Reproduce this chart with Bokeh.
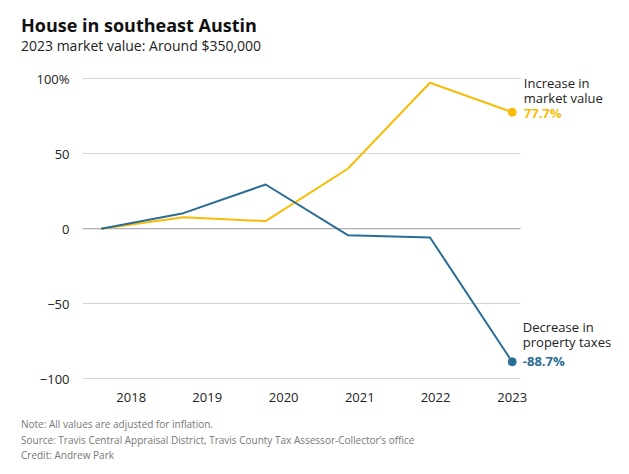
from bokeh.plotting import figure
from bokeh.models import Label, Range1d, FixedTicker, Title
from bokeh.embed import file_html
from bokeh.resources import INLINE

years = [2018, 2019, 2020, 2021, 2022, 2023]
market_value = [0, 7.7, 5.1, 40.0, 97.3, 77.7]
property_taxes = [0, 10.4, 29.5, -4.3, -5.8, -88.7]
x_tick_labels = ["2018", "2019", "2020", "2021", "2022", "2023"]
x_tick_positions = [2018.365, 2019.29, 2020.22, 2021.146, 2022.067, 2023.0]
y_ticks = [-100, -50, 0, 50, 100]
y_tick_labels = {-100: "\u2212100", -50: "\u221250", 0: "0", 50: "50", 100: "100%"}

YELLOW = "#f8bb08"
BLUE = "#2a6d94"
FONT = "Open Sans"
X_START, X_GRID_END, X_END = 2017.7725, 2023.101, 2024.3297

p = figure(width=621, height=473, output_backend="svg", toolbar_location=None, title=None,
           x_range=Range1d(X_START, X_END), y_range=Range1d(-104.5, 105.5),
           min_border_left=82, min_border_right=0, min_border_top=70, min_border_bottom=88)
p.outline_line_color = None
p.background_fill_color = "white"

# axes
p.xaxis.ticker = FixedTicker(ticks=x_tick_positions)
p.xaxis.major_label_overrides = {pos: lab for pos, lab in zip(x_tick_positions, x_tick_labels)}
p.yaxis.ticker = FixedTicker(ticks=y_ticks)
p.yaxis.major_label_overrides = y_tick_labels
for ax in (p.xaxis[0], p.yaxis[0]):
    ax.axis_line_color = None
    ax.major_tick_line_color = None
    ax.minor_tick_line_color = None
    ax.major_label_text_font = FONT
    ax.major_label_text_font_size = "13px"
    ax.major_label_text_color = "#222222"
p.xaxis.major_label_standoff = 1
p.yaxis.major_label_standoff = 7

p.xgrid.visible = False
p.ygrid.ticker = FixedTicker(ticks=y_ticks)
p.ygrid.grid_line_color = "#d4d4d4"
p.ygrid.grid_line_width = 1
p.ygrid.cross_bounds = (X_START, X_GRID_END)

# zero line, drawn from the y scale
p.segment(x0=[X_START], y0=[0], x1=[X_GRID_END], y1=[0], line_color="#a9a9a9", line_width=1)

# lines
p.line(years, market_value, line_color=YELLOW, line_width=2)
p.line(years, property_taxes, line_color=BLUE, line_width=2)
p.scatter([years[-1]], [market_value[-1]], size=8, color=YELLOW)
p.scatter([years[-1]], [property_taxes[-1]], size=8, color=BLUE)

def lab(text, x, y, size="13px", color="#222222", style="normal"):
    p.add_layout(Label(x=x, y=y, x_units="screen", y_units="screen", text=text,
                       text_font=FONT, text_font_size=size, text_color=color,
                       text_font_style=style, text_baseline="alphabetic", text_align="left"))

# end annotations
lab("Increase in", 441.3, 303)
lab("market value", 441.3, 287.3)
lab(f"{market_value[-1]:.1f}%", 441.3, 273, color=YELLOW, style="bold")
lab("Decrease in", 440.3, 58.3)
lab("property taxes", 440.3, 43.3)
lab(f"{property_taxes[-1]:.1f}%", 440.3, 24.7, color=BLUE, style="bold")

def title(text, loc, size, color, style="normal", standoff=0):
    p.add_layout(Title(text=text, align="left", offset=-61.5, text_font=FONT,
                       text_font_size=size, text_color=color, text_font_style=style,
                       standoff=standoff), loc)

# title and subtitle (later added = further from the plot)
title("2023 market value: Around $350,000", "above", "14px", "#222222", standoff=31.8)
title("House in southeast Austin", "above", "18px", "#111111", style="bold", standoff=-38)

# notes
title("Note: All values are adjusted for inflation.", "below", "10px", "#777777", standoff=-52.8)
title("Source: Travis Central Appraisal District, Travis County Tax Assessor-Collector\u2019s office", "below", "10px", "#777777", standoff=-85.4)
title("Credit: Andrew Park", "below", "10px", "#777777", standoff=-115.4)

open("out.html", "w").write(file_html(p, INLINE))
